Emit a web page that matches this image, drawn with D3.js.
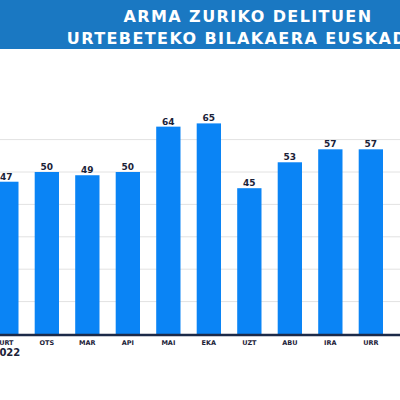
<!DOCTYPE html>
<html>
<head>
<meta charset="utf-8">
<script src="https://cdn.jsdelivr.net/npm/d3@7"></script>
<style>
  body { margin: 0; background: #fff; }
  svg { display: block; }
</style>
</head>
<body>
<script>
// hilabeteak eta balioak
var months = ["URT", "OTS", "MAR", "API", "MAI", "EKA", "UZT", "ABU", "IRA", "URR"];
var values = [47, 50, 49, 50, 64, 65, 45, 53, 57, 57];
var gridTicks = [10, 20, 30, 40, 50, 60];
var titleLines = ["ARMA ZURIKO DELITUEN", "URTEBETEKO BILAKAERA EUSKADIN"];
var yearLabel = "2022";

var W = 400, H = 400;
var svg = d3.select("body").append("svg")
    .attr("width", W)
    .attr("height", H);

svg.append("rect")
    .attr("x", 0).attr("y", 0)
    .attr("width", W).attr("height", 49)
    .attr("fill", "#1a78c2");

svg.selectAll(".title")
    .data(titleLines)
    .enter().append("text")
    .attr("x", 248)
    .attr("y", (d, i) => 21.5 + i * 22.5)
    .attr("text-anchor", "middle")
    .attr("fill", "#fff")
    .attr("font-family", "DejaVu Sans")
    .attr("font-weight", "bold")
    .attr("font-size", 16)
    .attr("letter-spacing", 1.4)
    .text(d => d);

var x = d3.scaleBand()
    .domain(months)
    .range([-13.9, 391.1])
    .paddingInner(0.4)
    .paddingOuter(0.2);

var y = d3.scaleLinear()
    .domain([0, 70])
    .range([334, 107.2]);

// grid
svg.selectAll(".grid")
    .data(gridTicks)
    .enter().append("line")
    .attr("x1", 0).attr("x2", W)
    .attr("y1", d => y(d)).attr("y2", d => y(d))
    .attr("stroke", "#e2e2e2")
    .attr("stroke-width", 1);

svg.selectAll(".bar")
    .data(values)
    .enter().append("rect")
    .attr("x", (d, i) => x(months[i]))
    .attr("y", d => y(d))
    .attr("width", x.bandwidth())
    .attr("height", d => y(0) - y(d))
    .attr("fill", "#0a84f5");

svg.selectAll(".val")
    .data(values)
    .enter().append("text")
    .attr("x", (d, i) => x(months[i]) + x.bandwidth() / 2)
    .attr("y", d => y(d) - 2)
    .attr("text-anchor", "middle")
    .attr("fill", "#1b2238")
    .attr("font-family", "DejaVu Sans")
    .attr("font-weight", "bold")
    .attr("font-size", 9)
    .text(d => d);

// x ardatza
var xAxis = svg.append("g")
    .attr("transform", "translate(0," + (y(0) + 1) + ")")
    .call(d3.axisBottom(x).tickSize(0).tickPadding(5));
xAxis.select(".domain")
    .attr("stroke", "#1c2a48")
    .attr("stroke-width", 2.5)
    .attr("d", "M0,0H" + W);
xAxis.selectAll("text")
    .attr("fill", "#1b2238")
    .attr("font-family", "DejaVu Sans")
    .attr("font-weight", "bold")
    .attr("font-size", 6.5);

svg.append("text")
    .attr("x", x(months[0]) + x.bandwidth() / 2)
    .attr("y", 356)
    .attr("text-anchor", "middle")
    .attr("fill", "#1b2238")
    .attr("font-family", "DejaVu Sans")
    .attr("font-weight", "bold")
    .attr("font-size", 10)
    .text(yearLabel);
</script>
</body>
</html>
